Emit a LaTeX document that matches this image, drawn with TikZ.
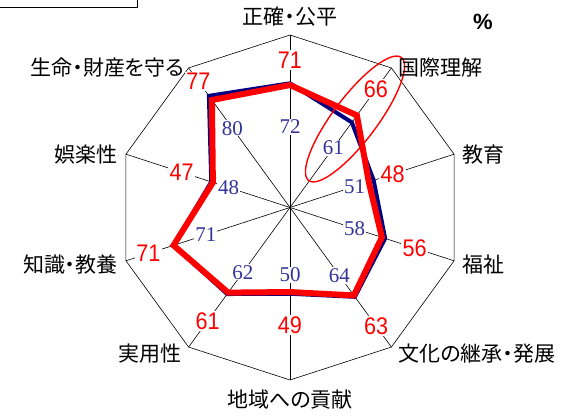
\documentclass[tikz,border=0pt]{standalone}
\usepackage{fontspec}
\newfontfamily\jpfont[RawFeature=+palt]{Noto Sans CJK JP}
\newfontfamily\numfont[FakeStretch=0.9]{Liberation Sans}
\newfontfamily\serfont{Liberation Serif}
\usetikzlibrary{calc,positioning,shapes.geometric}
\definecolor{oldline}{RGB}{0,0,128}
\definecolor{oldtext}{RGB}{51,51,153}
\tikzset{
	axisline/.style={draw=black, line width=0.6pt},
	rim/.style={draw=black, line width=0.6pt},
	axlabel/.style={
		inner sep=1pt,
		font=\jpfont\fontsize{21}{21}\selectfont},
	oldnum/.style={
		text=oldtext, fill=white,
		inner sep=1pt,
		font=\serfont\fontsize{21}{21}\selectfont},
	newnum/.style={
		text=red, fill=white,
		inner sep=1.5pt,
		font=\numfont\fontsize{24}{24}\selectfont},
	oldval/.style={draw=oldline, line width=4pt},
	newval/.style={draw=red, line width=6pt},
}

\begin{document}
\begin{tikzpicture}[x=1pt,y=1pt]
\useasboundingbox (-290,-209.5) rectangle (285,207.5);
\clip (-290,-209.5) rectangle (285,207.5);

% frame of the legend, cut off by the page
\draw[line width=1.5pt] (-296,214) rectangle (-152.5,200);

\coordinate (O) at (0,0);
\foreach \k in {0,...,9}
	\coordinate (v\k) at ({90-36*\k}:172.5);

\draw[rim] (v0) \foreach \k in {1,...,9}{-- (v\k)} -- cycle;
\foreach \k in {0,...,9}
	\draw[axisline] (O) -- (v\k);

% old value / new value / label radii
\foreach \k/\old/\new/\ro/\rn in {0/72/71/80.5/147.5, 1/61/66/74/146,
		2/51/48/68/108, 3/58/56/68/131, 4/64/63/84/146.5, 5/50/49/67.5/117.5,
		6/62/61/80/140, 7/71/71/88.5/149, 8/48/47/64.5/114, 9/80/77/98/156}{
	\coordinate (o\k) at ({90-36*\k}:{1.725*\old});
	\coordinate (n\k) at ({90-36*\k}:{1.725*\new});
	\node[oldnum] (ol\k) at ({90-36*\k}:\ro) {\old};
	\node[newnum] (nl\k) at ({90-36*\k}:\rn) {\new};
}

\draw[oldval] (o0) \foreach \k in {1,...,9}{-- (o\k)} -- cycle;
\draw[newval] (n0) \foreach \k in {1,...,9}{-- (n\k)} -- cycle;

\draw[red, line width=1.4pt] (65,88.5) ellipse[x radius=77, y radius=22, rotate=53];

\node[axlabel, above=8pt of v0] (seikaku) {正確・公平};
\node[axlabel, right=6pt of v1] (kokusai) {国際理解};
\node[axlabel, right=7pt of v2] (kyoiku) {教育};
\node[axlabel, right=7pt of v3, yshift=-4pt] (fukushi) {福祉};
\node[axlabel, right=6pt of v4, yshift=-7pt] (bunka) {文化の継承・発展};
\node[axlabel, below=9pt of v5] (chiiki) {地域への貢献};
\node[axlabel, left=6pt of v6, yshift=-7pt] (jitsuyo) {実用性};
\node[axlabel, left=7pt of v7, yshift=-4pt] (chishiki) {知識・教養};
\node[axlabel, left=7pt of v8] (goraku) {娯楽性};
\node[axlabel, left=3pt of v9] (seimei) {生命・財産を守る};
\node[font=\fontspec{Liberation Sans Bold}\fontsize{22}{22}\selectfont] (pct) at (193,185.5) {\%};
\end{tikzpicture}
\end{document}
